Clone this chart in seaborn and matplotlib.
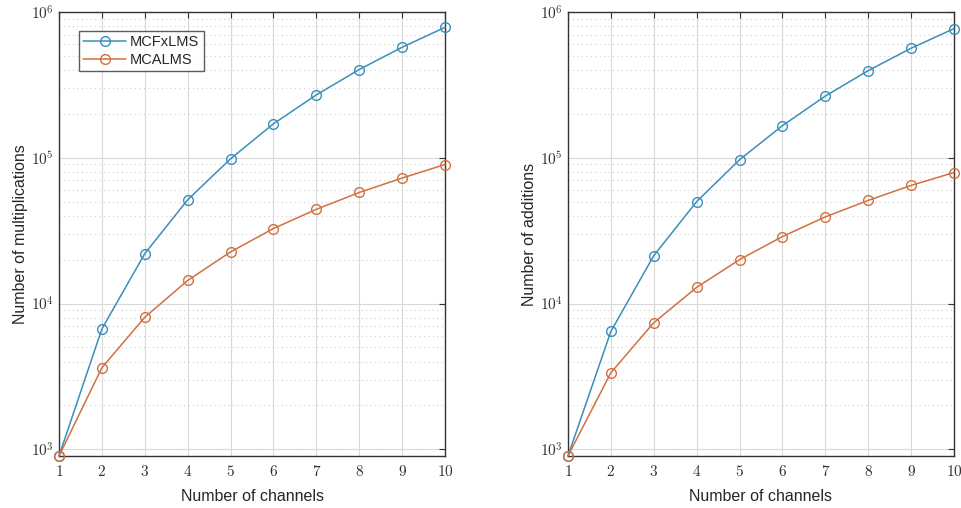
import math
import matplotlib
matplotlib.use("Agg")
import matplotlib.pyplot as plt
import seaborn as sns
import pandas as pd
from matplotlib.ticker import FuncFormatter, LogLocator, FixedLocator

# channels
channels = [1, 2, 3, 4, 5, 6, 7, 8, 9, 10]

# values
mult_mcfxlms = [900, 6700, 22000, 51500, 98400, 171000, 270000, 403000, 573000, 785000]
mult_mcalms = [900, 3630, 8050, 14400, 22600, 32700, 44300, 57800, 72600, 89900]
add_mcfxlms = [900, 6430, 21300, 50000, 96900, 166000, 265000, 396000, 564000, 769000]
add_mcalms = [900, 3350, 7380, 12900, 20000, 28800, 39300, 51000, 64600, 79200]

series_names = ["MCFxLMS", "MCALMS"]
colors = ["#3A8EBA", "#D2703F"]

sns.set_style("white")
plt.rcParams['font.family'] = ['Liberation Sans', 'DejaVu Sans']
plt.rcParams['mathtext.fontset'] = 'cm'

fig = plt.figure(figsize=(9.61, 5.08), dpi=100)
ax1 = fig.add_axes([0.0614, 0.1024, 0.4017, 0.874])
ax2 = fig.add_axes([0.591, 0.1024, 0.4017, 0.874])


def draw(ax, a, b, ylabel, legend):
    df = pd.DataFrame({"ch": channels * 2, "val": a + b,
                       "alg": [series_names[0]] * len(a) + [series_names[1]] * len(b)})
    for name, c in zip(series_names, colors):
        sub = df[df["alg"] == name]
        sns.lineplot(data=sub, x="ch", y="val", ax=ax, color=c, marker="o",
                     markersize=7, markerfacecolor="none", markeredgecolor=c,
                     markeredgewidth=1.0, linewidth=1.1, label=name, clip_on=False,
                     zorder=5)
    ax.set_yscale("log")
    ax.set_xlim(1, 10)
    ax.set_ylim(900, 1e6)
    ax.xaxis.set_major_locator(FixedLocator(channels))
    ax.xaxis.set_major_formatter(FuncFormatter(lambda v, p: r"$%d$" % v))
    ax.yaxis.set_major_locator(LogLocator(base=10, numticks=10))
    ax.yaxis.set_minor_locator(LogLocator(base=10, subs=range(2, 10), numticks=20))
    ax.yaxis.set_major_formatter(FuncFormatter(lambda v, p: r"$10^{%d}$" % round(math.log10(v))))
    ax.grid(True, which="major", color="#d9d9d9", linewidth=0.8)
    ax.grid(True, which="minor", axis="y", color="#cfcfcf", linestyle=(0, (1, 3)), linewidth=0.8)
    ax.tick_params(which="both", direction="in", top=True, right=True, labelsize=11,
                   color="#333333", length=4, labelcolor="#333333")
    ax.tick_params(axis="x", pad=6)
    ax.tick_params(which="minor", length=0)
    for s in ax.spines.values():
        s.set_color("#333333")
        s.set_linewidth(1.0)
    ax.set_xlabel("Number of channels", fontsize=11.5, labelpad=7, color="#262626")
    ax.set_ylabel(ylabel, fontsize=11.5, labelpad=2, color="#262626")
    if legend:
        leg = ax.legend(loc="upper left", bbox_to_anchor=(0.052, 0.957), borderaxespad=0,
                        fontsize=10.5, frameon=True, fancybox=False, edgecolor="#333333",
                        handlelength=2.9, borderpad=0.3, labelspacing=0.25, handletextpad=0.3)
        leg.get_frame().set_linewidth(1.0)
    else:
        ax.get_legend().remove()


draw(ax1, mult_mcfxlms, mult_mcalms, "Number of multiplications", True)
draw(ax2, add_mcfxlms, add_mcalms, "Number of additions", False)

fig.savefig("out.png", dpi=100)
